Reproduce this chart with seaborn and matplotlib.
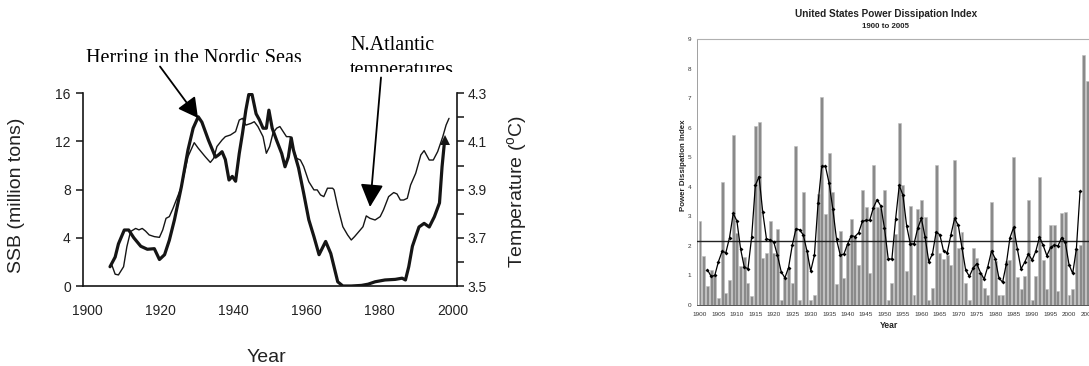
import matplotlib
matplotlib.use("Agg")
import matplotlib.pyplot as plt
from matplotlib.ticker import FixedLocator, FuncFormatter, MultipleLocator
from matplotlib.patches import Rectangle
import numpy as np
import pandas as pd
import seaborn as sns

# ---------------- Left panel: herring SSB and N. Atlantic temperature ----------------
ssb_year = [1906.3, 1907.7, 1908.6, 1910.2, 1911.4, 1912.8, 1914.7, 1916.5, 1918.4, 1919.8,
            1921.2, 1922.5, 1923.9, 1925.8, 1927.6, 1929.0, 1930.4, 1931.4, 1933.2, 1935.1,
            1936.0, 1936.9, 1937.8, 1938.8, 1939.7, 1940.6, 1941.6, 1942.5, 1943.4, 1944.2,
            1945.1, 1946.2, 1947.1, 1948.1, 1949.0, 1949.7, 1950.6, 1951.8, 1953.2, 1954.1,
            1955.0, 1955.8, 1956.4, 1957.8, 1959.2, 1960.6, 1962.0, 1963.4, 1965.2, 1966.6,
            1968.5, 1969.9, 1972.2, 1975.0, 1976.8, 1978.7, 1981.4, 1984.2, 1986.1, 1987.0,
            1987.9, 1988.9, 1990.7, 1992.1, 1993.5, 1994.9, 1996.3, 1997.0, 1997.7]
ssb_mt = [1.6, 2.4, 3.5, 4.65, 4.65, 4.0, 3.3, 3.05, 3.1, 2.2,
          2.6, 3.8, 5.5, 8.25, 11.3, 13.1, 14.05, 13.6, 12.1, 10.7,
          10.9, 11.15, 10.5, 8.8, 9.1, 8.7, 11.0, 12.7, 14.6, 15.9,
          15.9, 14.3, 13.8, 13.1, 13.1, 14.6, 13.1, 12.1, 11.0, 9.9,
          10.7, 12.3, 11.3, 9.8, 7.7, 5.5, 4.1, 2.6, 3.7, 2.7,
          0.35, 0.0, 0.0, 0.05, 0.15, 0.35, 0.5, 0.55, 0.65, 0.5,
          1.6, 3.3, 4.9, 5.2, 4.9, 5.75, 6.9, 9.9, 12.1]

temp_year = [1906.8, 1907.7, 1908.6, 1910.0, 1910.9, 1911.9, 1913.3, 1914.2, 1915.1, 1916.0,
             1917.0, 1918.4, 1919.8, 1920.7, 1921.6, 1922.5, 1923.5, 1925.8, 1927.6, 1929.3,
             1930.4, 1932.3, 1933.7, 1934.6, 1935.5, 1936.9, 1937.8, 1939.2, 1940.6, 1941.6,
             1942.5, 1943.4, 1944.8, 1945.7, 1946.7, 1948.1, 1949.0, 1949.9, 1950.8, 1951.8,
             1952.7, 1953.6, 1954.5, 1955.5, 1956.4, 1957.3, 1958.3, 1959.2, 1960.6, 1962.0,
             1962.9, 1963.8, 1964.7, 1965.7, 1967.1, 1967.5, 1968.5, 1969.9, 1971.2, 1972.2,
             1973.1, 1974.0, 1975.4, 1976.3, 1977.3, 1978.7, 1980.1, 1981.0, 1982.4, 1983.8,
             1984.7, 1985.6, 1986.5, 1987.5, 1988.4, 1989.8, 1991.2, 1992.1, 1993.5, 1994.6,
             1995.8, 1997.2, 1998.1, 1998.9]
temp_c = [3.587, 3.549, 3.546, 3.580, 3.663, 3.726, 3.739, 3.733, 3.739, 3.728,
          3.712, 3.705, 3.702, 3.733, 3.781, 3.788, 3.822, 3.912, 4.037, 4.095,
          4.072, 4.037, 4.013, 4.030, 4.079, 4.106, 4.120, 4.127, 4.141, 4.189,
          4.196, 4.168, 4.175, 4.182, 4.162, 4.120, 4.051, 4.079, 4.134, 4.155,
          4.162, 4.141, 4.120, 4.120, 4.065, 4.030, 4.023, 3.996, 3.933, 3.899,
          3.899, 3.878, 3.871, 3.906, 3.906, 3.899, 3.829, 3.746, 3.712, 3.691,
          3.705, 3.721, 3.746, 3.791, 3.781, 3.774, 3.788, 3.816, 3.871, 3.888,
          3.882, 3.857, 3.857, 3.864, 3.919, 3.968, 4.044, 4.062, 4.023, 4.023,
          4.058, 4.120, 4.168, 4.196]

left_xticks = [1900, 1920, 1940, 1960, 1980, 2000]
ssb_ticks = [0, 4, 8, 12, 16]
temp_ticks = [3.5, 3.7, 3.9, 4.1, 4.3]

# ---------------- Right panel: US Power Dissipation Index ----------------
pdi_years = list(range(1900, 2006))
pdi_values = [2.85, 1.65, 0.65, 1.18, 1.0, 0.25, 4.15, 0.4, 0.85, 5.77,
              2.44, 1.31, 1.63, 0.75, 0.31, 6.07, 6.21, 1.58, 1.75, 2.84,
              1.76, 2.57, 0.18, 0.95, 1.25, 0.75, 5.39, 0.17, 3.82, 1.75,
              0.17, 0.34, 3.75, 7.04, 3.07, 5.14, 3.82, 0.70, 2.50, 0.91,
              2.05, 2.92, 2.3, 1.35, 3.88, 3.31, 1.09, 4.74, 3.32, 3.28,
              3.88, 0.17, 0.76, 2.40, 6.16, 4.07, 1.16, 3.35, 0.34, 3.24,
              3.57, 2.99, 0.17, 0.58, 4.73, 1.76, 1.57, 1.7, 1.34, 4.91,
              1.92, 2.47, 0.76, 0.17, 1.93, 1.58, 1.1, 0.58, 0.34, 3.49,
              1.5, 0.34, 0.34, 1.5, 1.52, 5.01, 0.96, 0.55, 0.97, 3.56,
              0.17, 0.99, 4.32, 1.52, 0.53, 2.70, 2.70, 0.46, 3.13, 3.16,
              0.34, 0.53, 1.9, 2.03, 8.48, 7.59]
smooth_years = list(range(1902, 2004))
smooth_values = [1.2, 0.97, 1.0, 1.47, 1.82, 1.77, 2.28, 3.1, 2.85, 1.9,
                 1.28, 1.23, 2.3, 4.05, 4.35, 3.15, 2.25, 2.2, 2.13, 1.68,
                 1.13, 0.92, 1.27, 2.02, 2.58, 2.55, 2.37, 1.82, 1.15, 1.68,
                 3.45, 4.7, 4.7, 4.12, 3.25, 2.22, 1.7, 1.72, 2.07, 2.35,
                 2.32, 2.45, 2.83, 2.87, 2.87, 3.3, 3.57, 3.35, 2.6, 1.57,
                 1.55, 2.9, 4.05, 3.72, 2.68, 2.07, 2.07, 2.6, 2.93, 2.3,
                 1.47, 1.73, 2.47, 2.38, 1.83, 1.77, 2.38, 2.93, 2.7, 1.93,
                 1.18, 0.97, 1.25, 1.4, 1.1, 0.88, 1.3, 1.83, 1.57, 0.92,
                 0.77, 1.38, 2.28, 2.63, 1.9, 1.22, 1.45, 1.73, 1.52, 1.82,
                 2.3, 2.02, 1.67, 1.95, 2.03, 2.0, 2.28, 2.12, 1.37, 1.07,
                 1.9, 3.85]
pdi_mean = 2.17
pdi_xticks = list(range(1900, 2006, 5))
pdi_yticks = list(range(0, 10))

# ---------------- Styling ----------------
sns.set_style("white")
plt.rcParams['font.family'] = ['Liberation Sans', 'DejaVu Sans']
plt.rcParams['mathtext.fontset'] = 'custom'
plt.rcParams['mathtext.rm'] = 'Liberation Sans'

W, H = 1089, 366
fig = plt.figure(figsize=(W / 100, H / 100), dpi=100)


def box(x0, y_top, x1, y_bot):
    return [x0 / W, 1 - y_bot / H, (x1 - x0) / W, (y_bot - y_top) / H]


ink = '#151515'

# ===== Left panel =====
axL = fig.add_axes(box(83.3, 93.3, 456.7, 286))
df_ssb = pd.DataFrame({'year': ssb_year, 'ssb': ssb_mt})
sns.lineplot(data=df_ssb, x='year', y='ssb', ax=axL, color=ink, lw=2.3,
             estimator=None, sort=False, marker='^', markersize=7,
             markevery=[len(ssb_year) - 1], markeredgewidth=0)
axL.set_xlim(1899, 2001)
axL.set_ylim(0, 16)
axL.set_xticks(left_xticks)
axL.set_xticks(list(range(1900, 2001, 5)), minor=True)
axL.set_yticks(ssb_ticks)
axL.tick_params(axis='x', which='both', direction='inout', length=8, width=1.1,
                color=ink, labelsize=10, pad=9, labelcolor='#222222')
axL.tick_params(axis='y', which='both', direction='out', length=5, width=1.1,
                color=ink, labelsize=10, pad=4, labelcolor='#222222')
for s in ['top', 'right']:
    axL.spines[s].set_visible(False)
for s in ['left', 'bottom']:
    axL.spines[s].set_linewidth(1.2)
    axL.spines[s].set_color(ink)
axL.set_xlabel('Year', fontsize=14, color='#222222')
axL.xaxis.set_label_coords(0.49, -0.325)
axL.set_ylabel('SSB (million tons)', fontsize=14, color='#222222')
axL.yaxis.set_label_coords(-0.155, 0.47)

axT = axL.twinx()
df_t = pd.DataFrame({'year': temp_year, 'temp': temp_c})
sns.lineplot(data=df_t, x='year', y='temp', ax=axT, color=ink, lw=1.0,
             estimator=None, sort=False)
axT.set_ylim(3.5, 4.3)
axT.set_yticks(temp_ticks)
axT.set_yticks([3.6, 3.8, 4.0, 4.2], minor=True)
axT.yaxis.set_major_formatter(FuncFormatter(lambda v, p: f"{v:.1f}"))
axT.tick_params(axis='y', which='both', direction='out', length=5, width=1.1,
                color=ink, labelsize=10, pad=3, labelcolor='#222222')
for s in ['top', 'left', 'bottom']:
    axT.spines[s].set_visible(False)
axT.spines['right'].set_linewidth(1.2)
axT.spines['right'].set_color(ink)
axT.set_ylabel(r'Temperature ($^{\rm o}$C)', fontsize=14, color='#222222')
axT.yaxis.set_label_coords(1.13, 0.49)

# ===== Right panel =====
axR = fig.add_axes(box(697.3, 39.3, 1089.7, 305))
df_pdi = pd.DataFrame({'year': pdi_years, 'pdi': pdi_values})
sns.barplot(data=df_pdi, x='year', y='pdi', ax=axR, native_scale=True,
            color='#8a8a8a', saturation=1, edgecolor='#bdbdbd', linewidth=0.4,
            width=0.8, errorbar=None, zorder=2)
df_s = pd.DataFrame({'year': smooth_years, 'pdi': smooth_values})
sns.lineplot(data=df_s, x='year', y='pdi', ax=axR, color='black', lw=0.9,
             marker='D', markersize=2.0, markeredgewidth=0, estimator=None,
             sort=False, zorder=4)
axR.axhline(pdi_mean, color='#222222', lw=1.0, zorder=3)
axR.set_xlim(1899.27, 2005.61)
axR.set_ylim(0, 9)
axR.set_xticks(pdi_xticks)
axR.set_xticklabels([str(y) for y in pdi_xticks])
axR.xaxis.set_minor_locator(MultipleLocator(1))
axR.set_yticks(pdi_yticks)
axR.yaxis.set_minor_locator(MultipleLocator(0.2))
axR.tick_params(axis='x', which='major', direction='out', length=3, width=0.6,
                color='#555555', labelsize=4.6, pad=2, labelcolor='#333333')
axR.tick_params(axis='x', which='minor', direction='out', length=2, width=0.5,
                color='#555555')
axR.tick_params(axis='y', which='major', direction='out', length=2.5, width=0.6,
                color='#888888', labelsize=4.6, pad=2, labelcolor='#333333')
axR.tick_params(axis='y', which='minor', direction='out', length=1.5, width=0.5,
                color='#aaaaaa')
axR.spines['right'].set_visible(False)
axR.spines['top'].set_color('#b0b0b0')
axR.spines['top'].set_linewidth(0.8)
axR.spines['left'].set_color('#a0a0a0')
axR.spines['left'].set_linewidth(0.7)
axR.spines['bottom'].set_color('#555555')
axR.spines['bottom'].set_linewidth(0.7)
axR.set_xlabel('Year', fontsize=6.2, fontweight='bold', color='#222222')
axR.xaxis.set_label_coords(0.4885, -0.062)
axR.set_ylabel('Power Dissipation Index', fontsize=5.7, fontweight='bold', color='#222222')
axR.yaxis.set_label_coords(-0.027, 0.527)

fig.text(885.7 / W, 1 - 13.7 / H, 'United States Power Dissipation Index',
         ha='center', va='center', fontsize=7.2, fontweight='bold', color='#222222')
fig.text(885.7 / W, 1 - 26.7 / H, '1900 to 2005',
         ha='center', va='center', fontsize=5.7, fontweight='bold', color='#222222')

# ===== Overlay with serif annotations and arrows (pixel coordinates) =====
axO = fig.add_axes([0, 0, 1, 1], zorder=10)
axO.set_xlim(0, W)
axO.set_ylim(H, 0)
axO.axis('off')
axO.patch.set_alpha(0)
serif = ['Liberation Serif', 'DejaVu Serif']
axO.text(86, 62.5, 'Herring in the Nordic Seas', family=serif, fontsize=14.5,
         ha='left', va='baseline', color='black', zorder=1)
axO.text(350, 50, 'N.Atlantic', family=serif, fontsize=14.5,
         ha='left', va='baseline', color='black', zorder=1)
axO.text(350, 74.5, 'temperatures', family=serif, fontsize=14.5,
         ha='left', va='baseline', color='black', zorder=1)
# the text boxes are cut at the bottom in the source image
axO.add_patch(Rectangle((80, 61.5), 245, 18, facecolor='white', edgecolor='none', zorder=2))
axO.add_patch(Rectangle((345, 71.8), 125, 14, facecolor='white', edgecolor='none', zorder=2))
axO.annotate('', xy=(198, 118), xytext=(160, 66.5),
             arrowprops=dict(arrowstyle='-|>,head_length=12,head_width=6.5',
                             mutation_scale=1, lw=1.3, color='black',
                             shrinkA=0, shrinkB=0), zorder=3)
axO.annotate('', xy=(370, 207), xytext=(381, 77.5),
             arrowprops=dict(arrowstyle='-|>,head_length=14,head_width=7',
                             mutation_scale=1, lw=1.3, color='black',
                             shrinkA=0, shrinkB=0), zorder=3)

fig.savefig('out.png', dpi=100)
